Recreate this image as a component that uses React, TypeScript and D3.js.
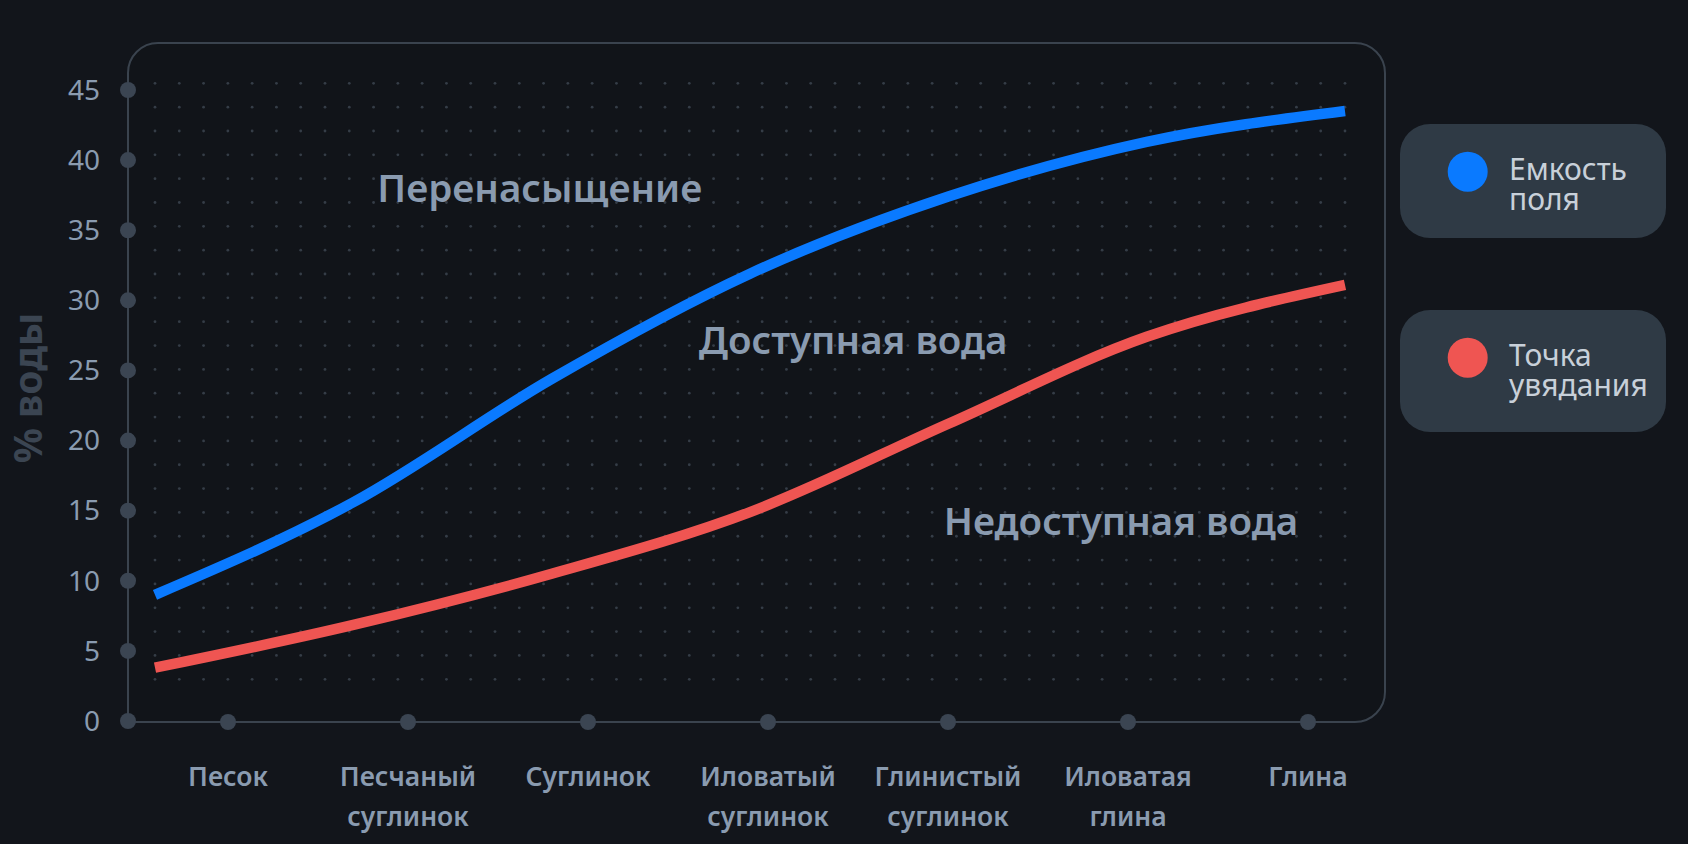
import React from "react";
import * as d3 from "d3";

const categories = ["Песок", "Песчаный суглинок", "Суглинок", "Иловатый суглинок", "Глинистый суглинок", "Иловатая глина", "Глина"];
const categoryLines = [["Песок"], ["Песчаный", "суглинок"], ["Суглинок"], ["Иловатый", "суглинок"], ["Глинистый", "суглинок"], ["Иловатая", "глина"], ["Глина"]];
const fieldCapacity = [9.0, 15.6, 24.4, 31.9, 37.4, 41.3, 43.5];
const wiltingPoint = [3.8, 6.85, 10.5, 14.9, 21.2, 27.4, 31.1];
const yTicks = [0, 5, 10, 15, 20, 25, 30, 35, 40, 45];
const zones = [
  { label: "Перенасыщение", cat: 1.94, value: 37.0 },
  { label: "Доступная вода", cat: 3.52, value: 26.2 },
  { label: "Недоступная вода", cat: 4.87, value: 13.3 },
];
const legendItems = [
  { lines: ["Емкость", "поля"], color: "#0a7aff" },
  { lines: ["Точка", "увядания"], color: "#ef5552" },
];

const W = 1688;
const H = 844;
const BG = "#12151b";
const GRID = "#3a434e";
const TXT = "#8a9bb0";
const FONT = "'Noto Sans', 'DejaVu Sans', sans-serif";

export default function App() {
  const panel = { x: 128, y: 43, w: 1257, h: 679, r: 30 };
  const y = d3.scaleLinear().domain([0, 45]).range([721, 90]);
  const xTick = d3.scalePoint<string>().domain(categories).range([228, 1308]);
  const xLine = d3.scaleLinear().domain([0, categories.length - 1]).range([155, 1345]);

  const line = d3
    .line<number>()
    .x((_, i) => xLine(i))
    .y((d) => y(d))
    .curve(d3.curveMonotoneX);

  const dotsX = d3.range(50).map((i) => 155 + (i * 1190) / 49);
  const dotsY = d3.range(26).map((j) => 83.3 + (j * 596) / 25);

  const { x: px, y: py, w: pw, h: ph, r: pr } = panel;
  const panelPath = d3.path();
  panelPath.moveTo(px, py + ph);
  panelPath.lineTo(px, py + pr);
  panelPath.arcTo(px, py, px + pr, py, pr);
  panelPath.lineTo(px + pw - pr, py);
  panelPath.arcTo(px + pw, py, px + pw, py + pr, pr);
  panelPath.lineTo(px + pw, py + ph - pr);
  panelPath.arcTo(px + pw, py + ph, px + pw - pr, py + ph, pr);
  panelPath.closePath();

  return (
    <svg width={W} height={H} style={{ position: "absolute", left: 0, top: 0, display: "block" }}>
      <rect x={0} y={0} width={W} height={H} fill={BG} />
      <path d={panelPath.toString()} fill="#111419" stroke={GRID} strokeWidth={2} />
      <g>
        {dotsY.map((dy, j) =>
          dotsX.map((dx, i) => <circle key={`${i}-${j}`} cx={dx} cy={dy} r={1.4} fill="#353d47" />)
        )}
      </g>
      {yTicks.map((t) => (
        <g key={t}>
          <circle cx={panel.x} cy={y(t)} r={8} fill="#3b4552" />
          <text x={100} y={y(t)} dy="0.35em" textAnchor="end" fill={TXT} fontFamily={FONT} fontSize={28}>
            {t}
          </text>
        </g>
      ))}
      {categories.map((c, i) => (
        <g key={c}>
          <circle cx={xTick(c)} cy={panel.y + panel.h} r={8} fill="#3b4552" />
          {categoryLines[i].map((ln, k) => (
            <text key={k} x={xTick(c)} y={786 + k * 40} textAnchor="middle" fill={TXT} fontFamily={FONT} fontSize={26.5} fontWeight={600}>
              {ln}
            </text>
          ))}
        </g>
      ))}
      <text
        transform={`translate(42,388) rotate(-90)`}
        textAnchor="middle"
        fill="#3b4552"
        fontFamily={FONT}
        fontSize={39}
        fontWeight={700}
      >
        % воды
      </text>
      {zones.map((z) => (
        <text key={z.label} x={xLine(z.cat)} y={y(z.value)} textAnchor="middle" fill={TXT} fontFamily={FONT} fontSize={38.5} fontWeight={600}>
          {z.label}
        </text>
      ))}
      <path d={line(fieldCapacity) || ""} fill="none" stroke="#0a7aff" strokeWidth={10.5} />
      <path d={line(wiltingPoint) || ""} fill="none" stroke="#ef5552" strokeWidth={10.5} />
      {legendItems.map((it, i) => {
        const top = i === 0 ? 124 : 310;
        const h = i === 0 ? 114 : 122;
        const cy = i === 0 ? 171.7 : 357.7;
        const base = i === 0 ? 180 : 366;
        return (
          <g key={i}>
            <rect x={1400} y={top} width={266} height={h} rx={30} fill="#2f3a45" />
            <circle cx={1467.7} cy={cy} r={20} fill={it.color} />
            {it.lines.map((ln, k) => (
              <text key={k} x={1509} y={base + k * 29.5} fill="#c8d0d9" fontFamily={FONT} fontSize={30}>
                {ln}
              </text>
            ))}
          </g>
        );
      })}
    </svg>
  );
}
